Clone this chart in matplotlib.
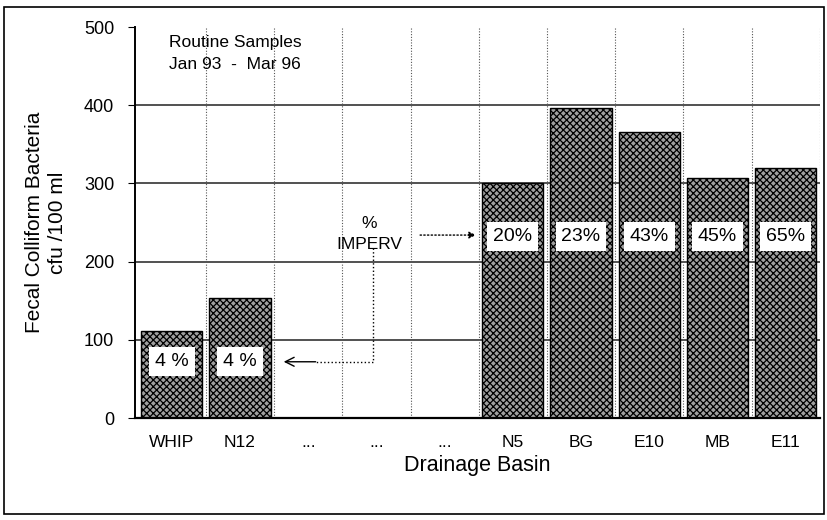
import matplotlib
matplotlib.use("Agg")
from matplotlib import pyplot as plt
from matplotlib.patches import Rectangle

plt.rcParams['font.family'] = ['Liberation Sans', 'DejaVu Sans']
plt.rcParams['hatch.linewidth'] = 0.9

categories = ["WHIP", "N12", "...", "...", "...", "N5", "BG", "E10", "MB", "E11"]
counts = [111, 153, None, None, None, 300, 397, 366, 307, 320]
imperv = ["4 %", "4 %", None, None, None, "20%", "23%", "43%", "45%", "65%"]
label_y = [72, 72, None, None, None, 232, 232, 232, 232, 232]

fig = plt.figure(figsize=(8.28, 5.2), dpi=100)
ax = fig.add_axes([0.163, 0.196, 0.827, 0.752])

# frame around the whole page
fig.patches.append(Rectangle((0.005, 0.012), 0.99, 0.975, transform=fig.transFigure,
                             fill=False, edgecolor='black', linewidth=1.2))

for y in [100, 200, 300, 400]:
    ax.axhline(y, color='#222222', linewidth=1.1, zorder=1)
for i in range(len(categories)):
    ax.axvline(i + 0.5, color='#555555', linewidth=0.8, linestyle=(0, (1, 1.5)), zorder=1)

for i, (c, v) in enumerate(zip(categories, counts)):
    if v is None:
        continue
    ax.bar(i, v, width=0.9, facecolor='#a0a0a0', edgecolor='black', hatch='xxxxx',
           linewidth=1.0, zorder=2)
    ax.text(i, label_y[i], imperv[i], ha='center', va='center', fontsize=14, zorder=4,
            bbox=dict(boxstyle='square,pad=0.3', facecolor='white', edgecolor='none'))

ax.set_xlim(-0.54, 9.5)
ax.set_ylim(0, 500)
ax.set_xticks(range(len(categories)))
ax.set_xticklabels(categories, fontsize=12.5)
ax.set_yticks([0, 100, 200, 300, 400, 500])
ax.tick_params(axis='y', labelsize=13, length=5, direction='out', pad=10)
ax.tick_params(axis='x', length=0, pad=12)
for s in ['top', 'right']:
    ax.spines[s].set_visible(False)
ax.spines['left'].set_linewidth(1.4)
ax.spines['bottom'].set_linewidth(1.6)

ax.set_xlabel("Drainage Basin", fontsize=15.5, labelpad=4)
ax.set_ylabel("Fecal Colliform Bacteria\ncfu /100 ml", fontsize=15, labelpad=12,
              linespacing=1.3)

ax.text(0.93, 466, "Routine Samples\nJan 93  -  Mar 96", ha='center', va='center',
        fontsize=12.5, linespacing=1.6)

ax.text(2.9, 236, "%\nIMPERV", ha='center', va='center', fontsize=12.5, linespacing=1.5)
ax.annotate("", xy=(4.5, 234), xytext=(3.6, 234),
            arrowprops=dict(arrowstyle='-|>', linestyle=':', color='black', lw=1))
ax.plot([2.95, 2.95, 2.1], [218, 72, 72], color='black', linestyle=':', lw=1)
ax.annotate("", xy=(1.6, 72), xytext=(2.15, 72),
            arrowprops=dict(arrowstyle='->', color='black', lw=1, mutation_scale=16))

fig.savefig("out.png", dpi=100)
